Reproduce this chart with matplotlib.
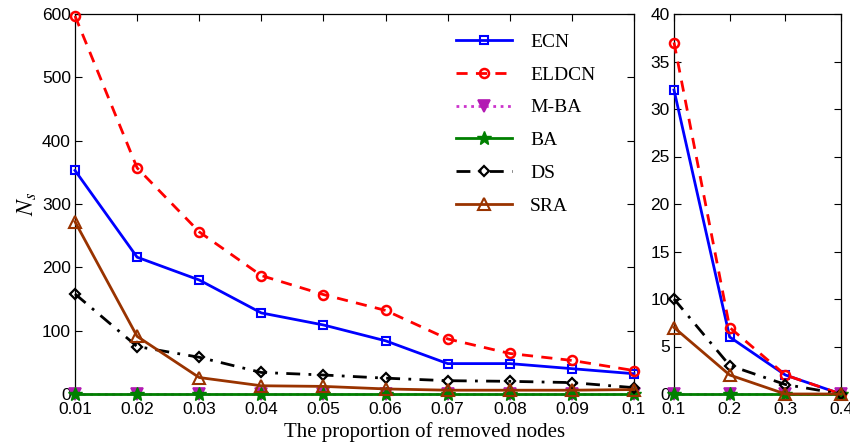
import matplotlib
matplotlib.use("Agg")
import matplotlib.pyplot as plt

x_left = [0.01, 0.02, 0.03, 0.04, 0.05, 0.06, 0.07, 0.08, 0.09, 0.1]
ecn_left = [353, 216, 180, 128, 109, 84, 48, 48, 40, 32]
eldcn_left = [597, 357, 256, 187, 157, 132, 87, 64, 53, 37]
mba_left = [0, 0, 0, 0, 0, 0, 0, 0, 0, 0]
ba_left = [0, 0, 0, 0, 0, 0, 0, 0, 0, 0]
ds_left = [158, 75, 58, 34, 30, 25, 21, 20, 18, 10]
sra_left = [272, 91, 26, 13, 12, 8, 6, 6, 6, 7]

x_right = [0.1, 0.2, 0.3, 0.4]
ecn_right = [32, 6, 2, 0]
eldcn_right = [37, 7, 2, 0]
mba_right = [0, 0, 0, 0]
ba_right = [0, 0, 0, 0]
ds_right = [10, 3, 1, 0]
sra_right = [7, 2, 0, 0]

labels = ["ECN", "ELDCN", "M-BA", "BA", "DS", "SRA"]
xticks_left = [0.01, 0.02, 0.03, 0.04, 0.05, 0.06, 0.07, 0.08, 0.09, 0.1]
xticklabels_left = ["0.01", "0.02", "0.03", "0.04", "0.05", "0.06", "0.07", "0.08", "0.09", "0.1"]
xticks_right = [0.1, 0.2, 0.3, 0.4]
xticklabels_right = ["0.1", "0.2", "0.3", "0.4"]

plt.rcParams["mathtext.fontset"] = "stix"
tickfont = "Liberation Sans"
serif = "Liberation Serif"

styles = [
    dict(color=(0, 0, 1), ls="-", marker="s", mfc="none", ms=5.5, mew=1.5),
    dict(color=(1, 0, 0), ls=(0, (4, 3)), marker="o", mfc="none", ms=6.5, mew=1.8),
    dict(color=(0.8, 0.2, 0.8), ls=":", marker="v", mfc=(0.7, 0.1, 0.7), mec=(0.7, 0.1, 0.7), ms=8, mew=1.2),
    dict(color=(0, 0.5, 0), ls="-", marker="*", mfc=(0, 0.5, 0), ms=10, mew=1),
    dict(color=(0, 0, 0), ls=(0, (5, 3, 1, 3)), marker="D", mfc="none", ms=5.5, mew=1.6),
    dict(color=(0.6, 0.2, 0.0), ls="-", marker="^", mfc="none", ms=8.5, mew=1.5),
]

fig = plt.figure(figsize=(8.5, 4.47), dpi=100)
ax1 = fig.add_axes([75/850, 53/447, 559/850, 380/447])
ax2 = fig.add_axes([674/850, 53/447, 167/850, 380/447])

left_series = [ecn_left, eldcn_left, mba_left, ba_left, ds_left, sra_left]
right_series = [ecn_right, eldcn_right, mba_right, ba_right, ds_right, sra_right]

for ys, lab, st in zip(left_series, labels, styles):
    ax1.plot(x_left, ys, label=lab, lw=2, clip_on=False, zorder=3, **st)
for ys, lab, st in zip(right_series, labels, styles):
    ax2.plot(x_right, ys, label=lab, lw=2, clip_on=False, zorder=3, **st)

ax1.set_xlim(0.01, 0.1)
ax1.set_ylim(0, 600)
ax1.set_xticks(xticks_left)
ax1.set_xticklabels(xticklabels_left)
ax1.set_yticks(range(0, 601, 100))
ax2.set_xlim(0.1, 0.4)
ax2.set_ylim(0, 40)
ax2.set_xticks(xticks_right)
ax2.set_xticklabels(xticklabels_right)
ax2.set_yticks(range(0, 41, 5))

for ax in (ax1, ax2):
    ax.tick_params(direction="in", top=True, right=True, length=5, width=0.8, labelsize=12.5)
    ax.tick_params(axis="x", pad=6)
    ax.tick_params(axis="y", pad=3)
    for lbl in ax.get_xticklabels() + ax.get_yticklabels():
        lbl.set_fontfamily(tickfont)
    for sp in ax.spines.values():
        sp.set_linewidth(0.9)

ax1.set_ylabel("$N_s$", fontsize=17, labelpad=2)
fig.text(0.5, 0.012, "The proportion of removed nodes", family=serif, fontsize=15, ha="center", va="bottom")

leg = ax1.legend(loc="upper right", bbox_to_anchor=(0.955, 0.985), frameon=False,
                 prop={"family": serif, "size": 14}, handlelength=2.9, labelspacing=0.78,
                 handletextpad=0.9, borderaxespad=0.3)

fig.savefig("out.png", dpi=100)
